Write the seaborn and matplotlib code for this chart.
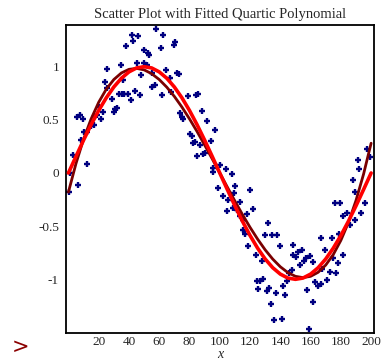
import numpy as np
import pandas as pd
import matplotlib
matplotlib.use("Agg")
import matplotlib.pyplot as plt
import seaborn as sns
from matplotlib.ticker import MultipleLocator

# ---- data ----
scatter_x = [0.4, 0.9, 3.2, 6.5, 12.1, 8.1, 10.3, 12.5, 15.1, 16.6, 5.9, 7.5, 9.8, 16.9, 19.1,
             21.7, 23.1, 20.4, 24.0, 25.7, 25.3, 28.8, 30.6, 30.1, 31.9, 33.6, 35.2, 36.7, 39.6,
             41.2, 44.0, 47.3, 35.0, 36.3, 45.1, 50.0, 47.8, 53.3, 55.5, 55.5, 57.0, 62.1, 64.3,
             67.2, 67.6, 57.9, 62.7, 42.2, 45.8, 42.9, 37.9, 50.0, 52.8, 61.0, 70.5, 69.8, 71.6,
             73.1, 51.8, 79.2, 84.3, 85.9, 88.1, 73.8, 74.9, 75.9, 91.4, 80.4, 81.5, 82.6, 83.7,
             87.0, 85.2, 90.3, 89.2, 94.1, 96.9, 100.2, 95.8, 95.4, 104.2, 107.9, 99.1, 102.0,
             110.1, 109.6, 120.0, 105.7, 108.6, 113.4, 105.0, 111.2, 117.8, 121.8, 115.2, 116.7,
             113.4, 115.6, 132.1, 129.9, 134.4, 137.7, 118.9, 124.0, 127.8, 124.5, 126.7, 128.8,
             125.5, 131.1, 132.8, 137.2, 133.9, 135.9, 141.0, 139.9, 143.2, 141.6, 144.3, 146.0,
             147.6, 148.6, 150.4, 148.2, 152.0, 154.2, 157.0, 155.7, 159.7, 161.5, 153.0, 157.5,
             161.9, 159.2, 163.0, 165.2, 166.8, 167.8, 169.6, 171.1, 172.9, 176.9, 175.1, 178.4,
             181.3, 174.0, 166.9, 179.0, 181.7, 184.0, 186.1, 189.4, 193.2, 176.2, 179.5, 196.0,
             197.2, 199.3, 191.0, 192.3, 187.9, 189.4]
scatter_y = [-0.18, 0.00, 0.17, -0.11, 0.08, 0.31, 0.39, 0.39, 0.44, 0.45, 0.53, 0.55, 0.51, 0.53,
             0.55, 0.51, 0.57, 0.62, 0.86, 0.98, 0.80, 0.70, 0.60, 0.57, 0.61, 0.74, 0.74, 0.74,
             0.74, 0.69, 0.77, 0.73, 1.02, 0.87, 1.03, 1.03, 0.92, 1.11, 0.94, 0.81, 0.83, 0.73,
             0.97, 0.89, 0.76, 1.35, 1.30, 1.30, 1.29, 1.24, 1.19, 1.16, 1.13, 1.18, 1.23, 1.20,
             0.94, 0.93, 1.02, 0.72, 0.73, 0.74, 0.58, 0.56, 0.53, 0.51, 0.49, 0.37, 0.35, 0.28,
             0.29, 0.26, 0.16, 0.19, 0.18, 0.30, 0.40, 0.075, 0.044, 0.012, 0.035, -0.01, -0.14,
             -0.22, -0.12, -0.19, -0.16, -0.25, -0.33, -0.27, -0.36, -0.35, -0.39, -0.34, -0.54,
             -0.57, -0.40, -0.44, -0.47, -0.58, -0.58, -0.58, -0.69, -0.77, -0.83, -1.02, -1.02,
             -1.00, -1.09, -1.11, -1.08, -1.13, -1.23, -1.38, -1.37, -0.69, -1.15, -1.06, -1.02,
             -0.94, -0.91, -0.68, -0.79, -0.77, -0.74, -0.72, -0.80, -0.83, -0.78, -0.84, -0.87,
             -1.10, -1.21, -1.47, -1.03, -1.06, -1.04, -0.90, -0.72, -1.01, -0.93, -0.94, -0.80,
             -0.85, -0.77, -0.61, -0.61, -0.57, -0.40, -0.38, -0.49, -0.44, -0.38, -0.28, -0.28,
             -0.28, 0.23, 0.15, 0.12, 0.04, -0.07, -0.18]

curve_x = [0, 5, 10, 15, 20, 25, 30, 35, 40, 45, 50, 55, 60, 65, 70, 75, 80, 85, 90, 95, 100,
           105, 110, 115, 120, 125, 130, 135, 140, 145, 150, 155, 160, 165, 170, 175, 180, 185,
           190, 195, 200]
quartic_fit = [-0.180, 0.089, 0.318, 0.509, 0.665, 0.788, 0.879, 0.941, 0.975, 0.984, 0.970,
               0.934, 0.879, 0.807, 0.720, 0.620, 0.509, 0.390, 0.263, 0.133, 0.000, -0.133,
               -0.264, -0.391, -0.511, -0.622, -0.723, -0.810, -0.882, -0.937, -0.972, -0.984,
               -0.972, -0.934, -0.866, -0.767, -0.634, -0.466, -0.259, -0.011, 0.280]
true_curve = [0.000, 0.156, 0.309, 0.454, 0.588, 0.707, 0.809, 0.891, 0.951, 0.988, 1.000,
              0.988, 0.951, 0.891, 0.809, 0.707, 0.588, 0.454, 0.309, 0.156, 0.000, -0.156,
              -0.309, -0.454, -0.588, -0.707, -0.809, -0.891, -0.951, -0.988, -1.000, -0.988,
              -0.951, -0.891, -0.809, -0.707, -0.588, -0.454, -0.309, -0.156, 0.000]

title = "Scatter Plot with Fitted Quartic Polynomial"
xlabel = "x"

# ---- plot ----
sns.set_style("white")
plt.rcParams['font.family'] = ['Liberation Serif', 'DejaVu Serif']

fig = plt.figure(figsize=(3.81, 3.62), dpi=100)
ax = fig.add_axes([66/381, 1-333/362, (374-66)/381, (333-25)/362])

pts = pd.DataFrame({"x": scatter_x, "y": scatter_y})
sns.scatterplot(data=pts, x="x", y="y", marker="+", s=16, linewidth=1.7,
                color="#000080", ax=ax, zorder=2)
curves = pd.DataFrame({"x": curve_x, "q": quartic_fit, "s": true_curve})
sns.lineplot(data=curves, x="x", y="q", color="#7a0000", linewidth=2.0, ax=ax, zorder=3)
sns.lineplot(data=curves, x="x", y="s", color="#ff0000", linewidth=2.6, ax=ax, zorder=4)

ax.set_xlim(-1.6, 201.9)
ax.set_ylim(-1.505, 1.392)
ax.xaxis.set_major_locator(MultipleLocator(20))
ax.xaxis.set_minor_locator(MultipleLocator(10))
ax.yaxis.set_major_locator(MultipleLocator(0.5))
ax.yaxis.set_minor_locator(MultipleLocator(0.1))
ax.set_xticks([20, 40, 60, 80, 100, 120, 140, 160, 180, 200])
ax.set_yticks([-1, -0.5, 0, 0.5, 1])
ax.set_yticklabels(["-1", "-0.5", "0", "0.5", "1"])
ax.tick_params(axis="x", which="major", direction="in", length=4, width=1, labelsize=9.5, pad=2)
ax.tick_params(axis="x", which="minor", direction="in", length=2.5, width=1)
ax.tick_params(axis="y", which="major", direction="inout", length=6, width=1, labelsize=9.5, pad=2)
ax.tick_params(axis="y", which="minor", direction="in", length=2.5, width=1)
for s in ax.spines.values():
    s.set_linewidth(1.3)
    s.set_color("black")
ax.set_xlabel(xlabel, fontstyle="italic", fontsize=10, labelpad=0)
ax.set_ylabel("")
ax.set_title(title, fontsize=10.5, pad=5)

fig.text(12/381, 1-347/362, ">", color="#8b0000", fontsize=15,
         family="DejaVu Sans", ha="left", va="center")

fig.savefig("out.png", dpi=100)
